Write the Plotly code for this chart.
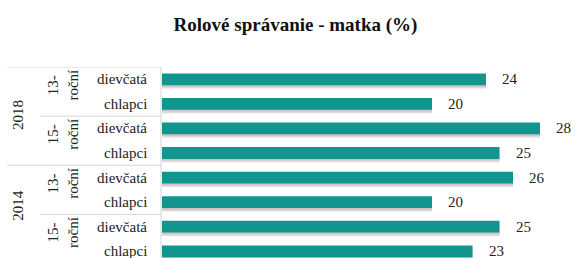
import plotly.graph_objects as go

# ---- data ----
title = "Rolové správanie - matka (%)"
genders = ["dievčatá", "chlapci", "dievčatá", "chlapci", "dievčatá", "chlapci", "dievčatá", "chlapci"]
values = [24, 20, 28, 25, 26, 20, 25, 23]
age_labels = ["13-<br>roční", "15-<br>roční", "13-<br>roční", "15-<br>roční"]
age_rows = [0.5, 2.5, 4.5, 6.5]
years = ["2018", "2014"]
year_rows = [1.45, 5.15]

# ---- layout constants ----
W, H = 575, 258
L, R, T, B = 162, 0, 67, 0
plot_w = W - L - R
px_per_unit = 13.5
n_rows = len(values)
row_h = 24.57
rows_visible = (H - T - B) / row_h
rows = list(range(n_rows))
bar_w = 0.48
teal = "#13958f"
FONT = "Times New Roman, Liberation Serif, serif"
line_col = "#d3d3d3"
txt = "#222"

def xp(px):
    return (px - L) / plot_w

fig = go.Figure()
# soft shadow
fig.add_trace(go.Bar(x=values, y=rows, orientation="h", width=bar_w,
                     offset=-bar_w / 2 + 0.14, marker=dict(color="rgba(150,125,135,0.28)", line_width=0),
                     hoverinfo="skip", showlegend=False))
fig.add_trace(go.Bar(x=values, y=rows, orientation="h", width=bar_w,
                     offset=-bar_w / 2 + 0.07, marker=dict(color="rgba(150,125,135,0.25)", line_width=0),
                     hoverinfo="skip", showlegend=False))
fig.add_trace(go.Bar(x=values, y=rows, orientation="h", width=bar_w, offset=-bar_w / 2,
                     marker=dict(color=teal, line_width=0), showlegend=False))

f14 = dict(family=FONT, size=14, color=txt)
f15 = dict(family=FONT, size=15, color=txt)
ann = []
for r, v in zip(rows, values):
    ann.append(dict(x=v, y=r, xref="x", yref="y", text=str(v), showarrow=False,
                    xanchor="left", yanchor="middle", xshift=14, font=f15))
for r, g in zip(rows, genders):
    ann.append(dict(x=0, y=r, xref="paper", yref="y", text=g, showarrow=False,
                    xanchor="right", yanchor="middle", xshift=-13, font=f15))
for r, a in zip(age_rows, age_labels):
    ann.append(dict(x=xp(63), y=r, xref="paper", yref="y", text=a, showarrow=False,
                    xanchor="center", yanchor="middle",
                    textangle=-90, yshift=6, font=f15))
for r, yv in zip(year_rows, years):
    ann.append(dict(x=xp(18), y=r, xref="paper", yref="y", text=yv, showarrow=False,
                    xanchor="center", yanchor="middle",
                    textangle=-90, font=f15))

shapes = []
# horizontal separators
for yb, x0 in [(-0.5, 7), (3.5, 7), (1.5, 40), (5.5, 40)]:
    shapes.append(dict(type="line", xref="paper", yref="y", x0=xp(x0), x1=xp(161),
                       y0=yb, y1=yb, line=dict(color=line_col, width=1)))
# vertical axis line
shapes.append(dict(type="line", xref="paper", yref="paper", x0=xp(161), x1=xp(161),
                   y0=0, y1=1, line=dict(color=line_col, width=1)))

fig.update_layout(
    width=W, height=H,
    margin=dict(l=L, r=R, t=T, b=B),
    paper_bgcolor="white", plot_bgcolor="white",
    barmode="overlay",
    font=dict(family=FONT, size=14, color=txt),
    title=dict(text="<b>" + title + "</b>", x=(173 + 418) / 2 / W, xanchor="center",
               y=1 - 24 / H, yanchor="middle",
               font=dict(family=FONT, size=19, color="#111")),
    xaxis=dict(range=[0, plot_w / px_per_unit], visible=False, fixedrange=True),
    yaxis=dict(range=[-0.5 + rows_visible, -0.5], visible=False, fixedrange=True),
    annotations=ann, shapes=shapes,
)
fig.write_html("out.html", config=dict(displayModeBar=False),
               post_script="document.body.style.margin='0';document.body.style.overflow='hidden';")
